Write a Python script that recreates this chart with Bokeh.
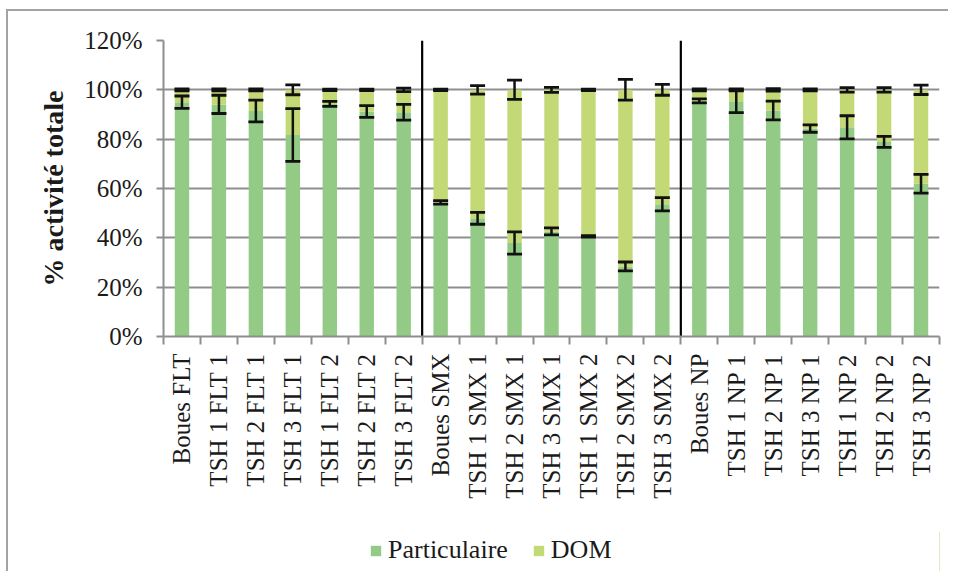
import math
from bokeh.plotting import figure
from bokeh.layouts import column
from bokeh.models import (ColumnDataSource, Range1d, FixedTicker, PrintfTickFormatter,
                          Whisker, TeeHead, Legend, LegendItem)
from bokeh.embed import file_html
from bokeh.resources import INLINE

categories = ["Boues FLT", "TSH 1 FLT 1", "TSH 2 FLT 1", "TSH 3 FLT 1", "TSH 1 FLT 2",
              "TSH 2 FLT 2", "TSH 3 FLT 2",
              "Boues SMX", "TSH 1 SMX 1", "TSH 2 SMX 1", "TSH 3 SMX 1", "TSH 1 SMX 2",
              "TSH 2 SMX 2", "TSH 3 SMX 2",
              "Boues NP", "TSH 1 NP 1", "TSH 2 NP 1", "TSH 3 NP 1", "TSH 1 NP 2",
              "TSH 2 NP 2", "TSH 3 NP 2"]
particulaire = [95.0, 94.1, 91.4, 81.7, 94.3, 91.2, 90.9,
                54.4, 47.9, 37.9, 42.6, 40.6, 28.4, 53.6,
                95.5, 95.4, 91.6, 84.3, 84.8, 78.9, 61.9]
err_particulaire = [2.5, 3.7, 4.4, 10.7, 1.0, 2.4, 3.2,
                    0.7, 2.4, 4.5, 1.4, 0.3, 1.8, 2.7,
                    0.8, 4.6, 3.8, 1.5, 4.7, 2.2, 3.8]
err_dom = [0.4, 0.4, 0.4, 2.0, 0.3, 0.3, 0.7,
           0.3, 1.7, 3.9, 1.0, 0.3, 4.2, 2.2,
           0.4, 0.4, 0.5, 0.4, 0.9, 0.9, 1.9]
group_breaks = [7, 14]
y_ticks = [0, 20, 40, 60, 80, 100, 120]
series_names = ["Particulaire", "DOM"]

FONT = "Liberation Serif"
GREEN = "#93cb86"
LIGHT = "#c3d975"
GRID = "#8e8e8e"
TXT = "#1a1a1a"

n = len(categories)
xs = [i + 0.5 for i in range(n)]
total = [100.0] * n
src = ColumnDataSource(dict(
    x=xs, part=particulaire, total=total,
    pl=[p - e for p, e in zip(particulaire, err_particulaire)],
    pu=[p + e for p, e in zip(particulaire, err_particulaire)],
    dl=[t - e for t, e in zip(total, err_dom)],
    du=[t + e for t, e in zip(total, err_dom)],
))

p = figure(width=940, height=520, output_backend="svg", toolbar_location=None,
           x_range=Range1d(0, n), y_range=Range1d(0, 120),
           min_border_left=155, min_border_top=29, min_border_right=9,
           min_border_bottom=195)
p.outline_line_color = None
p.xgrid.grid_line_color = None
p.ygrid.grid_line_color = GRID
p.ygrid.grid_line_width = 2
p.background_fill_color = "white"
p.border_fill_color = "white"

p.vbar(x="x", top="part", bottom=0, width=0.39, source=src,
       fill_color=GREEN, line_color=None)
p.vbar(x="x", top="total", bottom="part", width=0.39, source=src,
       fill_color=LIGHT, line_color=None)

for b in group_breaks:
    p.segment(x0=[b], x1=[b], y0=[0], y1=[120], line_color="black", line_width=2.2)

for lo, hi in (("pl", "pu"), ("dl", "du")):
    w = Whisker(source=src, base="x", lower=lo, upper=hi, dimension="height",
                line_color="#111111", line_width=2.5, level="overlay",
                upper_head=TeeHead(size=15, line_width=2.8, line_color="#111111"),
                lower_head=TeeHead(size=15, line_width=2.8, line_color="#111111"))
    p.add_layout(w)

# y axis
ya = p.yaxis[0]
ya.ticker = FixedTicker(ticks=y_ticks)
ya.formatter = PrintfTickFormatter(format="%d%%")
ya.axis_line_color = GRID
ya.axis_line_width = 2
ya.major_tick_line_color = GRID
ya.major_tick_line_width = 2
ya.major_tick_out = 7
ya.major_tick_in = 0
ya.minor_tick_line_color = None
ya.major_label_text_font = FONT
ya.major_label_text_font_size = "25px"
ya.major_label_text_color = TXT
ya.major_label_standoff = 14
ya.axis_label = "% activité totale"
ya.axis_label_text_font = FONT
ya.axis_label_text_font_style = "bold"
ya.axis_label_text_font_size = "28px"
ya.axis_label_text_color = TXT
ya.axis_label_standoff = 12

# x axis
xa = p.xaxis[0]
xa.ticker = FixedTicker(ticks=xs, minor_ticks=list(range(n + 1)))
xa.major_label_overrides = {x: c for x, c in zip(xs, categories)}
xa.major_label_orientation = math.pi / 2
xa.axis_line_color = GRID
xa.axis_line_width = 2
xa.major_tick_line_color = None
xa.major_tick_out = 8
xa.minor_tick_line_color = GRID
xa.minor_tick_line_width = 2
xa.minor_tick_out = 8
xa.minor_tick_in = 0
xa.major_label_text_font = FONT
xa.major_label_text_font_size = "25px"
xa.major_label_text_color = TXT
xa.major_label_standoff = 9

# legend strip (its frame is aligned with the main plot's frame)
lg = figure(width=940, height=40, output_backend="svg", toolbar_location=None,
            x_range=Range1d(0, 1), y_range=Range1d(0, 1),
            x_axis_type=None, y_axis_type=None,
            min_border_left=0, min_border_right=0, min_border_top=0, min_border_bottom=0)
lg.outline_line_color = None
lg.xgrid.grid_line_color = None
lg.ygrid.grid_line_color = None
lg.background_fill_color = "white"
lg.border_fill_color = "white"
# proxy renderers for the legend keys, placed outside the visible range
proxy = ColumnDataSource(dict(x=[5.0], t=[5.0]))
r1 = lg.vbar(x="x", top="t", width=0.1, source=proxy, fill_color=GREEN, line_color=None)
r2 = lg.vbar(x="x", top="t", width=0.1, source=proxy, fill_color=LIGHT, line_color=None)
legend = Legend(items=[LegendItem(label=series_names[0], renderers=[r1]),
                       LegendItem(label=series_names[1], renderers=[r2])],
                orientation="horizontal", location=(206, 6),
                glyph_width=13, glyph_height=13, label_standoff=6, spacing=24,
                padding=0, margin=0, border_line_color=None,
                background_fill_alpha=0, label_text_font=FONT,
                label_text_font_size="26px", label_text_color=TXT)
lg.add_layout(legend, "center")

layout = column(p, lg, spacing=0)
layout.styles = {"margin": "9px 0px 0px 6px",
                 "border-left": "2px solid #a3a3a3", "border-top": "2px solid #a3a3a3"}

open("out.html", "w").write(file_html(layout, INLINE))
